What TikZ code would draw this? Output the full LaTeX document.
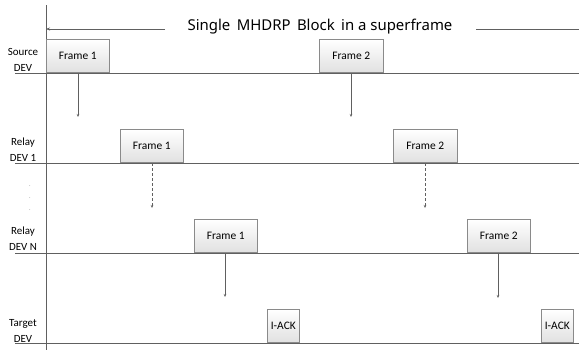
\documentclass[tikz,border=0pt]{standalone}
\usepackage{fontspec}
\setmainfont{Carlito}
\newfontfamily\titlefont{Noto Sans}
\usetikzlibrary{arrows.meta}
\definecolor{linegray}{HTML}{606060}
\definecolor{boxedge}{HTML}{8A8A8A}
\tikzset{
  frame/.style={draw=boxedge, line width=0.6pt, top color=white, bottom color=black!12,
    minimum height=33bp, inner sep=0pt, font=\fontsize{11.5}{13}\selectfont},
  lane/.style={draw=linegray, line width=0.8pt},
  devlabel/.style={align=center, font=\fontsize{11}{16}\selectfont, inner sep=0pt},
  hop/.style={draw=linegray, line width=0.6pt, -{Stealth[length=3bp,width=2.5bp]}},
  hopdash/.style={hop, dashed, dash pattern=on 3bp off 2bp}
}
\begin{document}
\begin{tikzpicture}[x=1bp, y=-1bp]
\useasboundingbox (0,0) rectangle (579,353);

% time axis
\coordinate (axtop) at (46,5);
\coordinate (axbot) at (46,350);
\draw[lane] (axtop) -- (axbot);

% device lanes
\coordinate (s0) at (15,73);  \coordinate (s1) at (579,73);
\coordinate (r0) at (15,163); \coordinate (r1) at (579,163);
\coordinate (n0) at (15,253); \coordinate (n1) at (579,253);
\coordinate (t0) at (15,343); \coordinate (t1) at (579,343);
\draw[lane] (s0) -- (s1);
\draw[lane] (r0) -- (r1);
\draw[lane] (n0) -- (n1);
\draw[lane] (t0) -- (t1);

% superframe span
\node[font=\titlefont\fontsize{15}{17}\selectfont, inner sep=0pt] (title) at (320,27) {Single\,\ MHDRP\,\ Block\,\ in a superframe};
\coordinate (spanL) at (46,29);
\coordinate (spanR) at (579,29);
\draw[draw=linegray, line width=0.6pt, -{Stealth[length=4bp,width=3bp]}] (165,29) -- (spanL);
\draw[draw=linegray, line width=0.6pt] (476,29) -- (spanR);

% device names
\node[devlabel] (lsrc) at (23,60) {Source\\DEV};
\node[devlabel] (lr1) at (23,150) {Relay\\DEV 1};
\node[devlabel] (lrn) at (23,239) {Relay\\DEV N};
\node[devlabel] (ltg) at (23,331) {Target\\DEV};
\node[font=\fontsize{6}{6}\selectfont, text=black!50, inner sep=0pt] (d1) at (30,186) {.};
\node[font=\fontsize{6}{6}\selectfont, text=black!50, inner sep=0pt] (d2) at (30,198) {.};
\node[font=\fontsize{6}{6}\selectfont, text=black!50, inner sep=0pt] (d3) at (30,210) {.};

% frames
\node[frame, minimum width=63bp, anchor=south west] (sf1) at (46,73) {Frame 1};
\node[frame, minimum width=64bp, anchor=south west] (sf2) at (319,73) {Frame 2};
\node[frame, minimum width=63bp, anchor=south west] (rf1) at (120,163) {Frame 1};
\node[frame, minimum width=64bp, anchor=south west] (rf2) at (393,163) {Frame 2};
\node[frame, minimum width=63bp, anchor=south west] (nf1) at (194,253) {Frame 1};
\node[frame, minimum width=63bp, anchor=south west] (nf2) at (467,253) {Frame 2};
\node[frame, minimum width=32bp, anchor=south west] (ack1) at (267,343) {I-ACK};
\node[frame, minimum width=32bp, anchor=south west] (ack2) at (541,343) {I-ACK};

% hops
\coordinate (h1) at (78,117);
\coordinate (h2) at (351,117);
\coordinate (h3) at (152,208);
\coordinate (h4) at (425,208);
\coordinate (h5) at (225,297);
\coordinate (h6) at (498,298);
\draw[hop] (h1 |- sf1.south) -- (h1);
\draw[hop] (h2 |- sf2.south) -- (h2);
\draw[hopdash] (h3 |- rf1.south) -- (h3);
\draw[hopdash] (h4 |- rf2.south) -- (h4);
\draw[hop] (h5 |- nf1.south) -- (h5);
\draw[hop] (h6 |- nf2.south) -- (h6);
\end{tikzpicture}
\end{document}
